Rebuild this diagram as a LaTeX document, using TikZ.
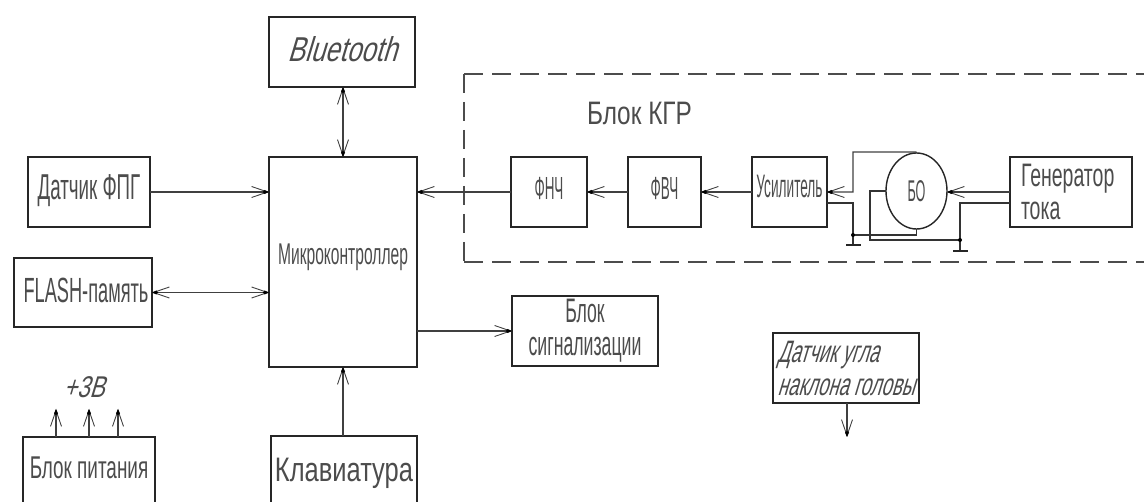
\documentclass[tikz,border=0pt]{standalone}
\usepackage{fontspec}
\setmainfont{Liberation Sans}
\newfontfamily\gostn[FakeStretch=0.42]{Liberation Sans}
\newfontfamily\gostm[FakeStretch=0.52]{Liberation Sans}
\newfontfamily\gostw[FakeStretch=0.60]{Liberation Sans}
\newfontfamily\gostx[FakeStretch=0.75]{Liberation Sans}
\newfontfamily\gosti[FakeStretch=0.60,FakeSlant=0.3]{Liberation Sans}
\newfontfamily\gostj[FakeStretch=0.75,FakeSlant=0.3]{Liberation Sans}
\newcommand{\fs}[1]{\fontsize{#1}{33}\selectfont}
\usepackage{xcolor}
\usetikzlibrary{arrows.meta, positioning, shapes.geometric}
\tikzset{barbtip/.tip={Straight Barb[length=16pt,width=11pt,line width=0.9pt,sep=-6pt]Kite[length=6pt,width=4pt,sep=0pt,black]}}

\begin{document}
\begin{tikzpicture}[
  x=1pt, y=-1pt,
  % Boxes with a heavy outline
  block/.style={rectangle, draw=black!85, line width=2pt, outer sep=0pt, inner sep=0pt,
                text=black!70, align=center},
  % Baseline of the text below the middle of its box
  baseup/.style={text height=#1, text depth=0pt},
  % Text that stands on its own
  caption/.style={text=black!70, inner sep=0pt, align=center},
  arrow/.style={-barbtip, draw=black!75, line width=1.2pt},
  both/.style={barbtip-barbtip, draw=black!75, line width=1.2pt},
  wire/.style={draw=black!80, line width=1.2pt},
  frame/.style={draw=black!70, line width=1.2pt, dash pattern=on 19pt off 9pt},
  ground/.style={draw=black!85, line width=2pt},
  junction/.style={circle, fill=black, inner sep=0pt, minimum size=4pt}
]
\useasboundingbox (0,0) rectangle (1144,502);
\clip (0,0) rectangle (1144,502);

%% ── Left column ──────────────────────────────────
\node[block, minimum width=122pt, minimum height=70pt, baseup=16pt, font=\gostm\fs{36}]
    (fpg) at (89, 192) {Датчик ФПГ};
\node[block, minimum width=138pt, minimum height=69pt, baseup=21pt, font=\gostm\fs{35}]
    (flash) at (83, 292.5) {\hspace*{6pt}FLASH-память};

%% ── Center column ────────────────────────────────
\node[block, minimum width=146pt, minimum height=70pt, baseup=20pt, font=\gostj\fs{34.5}]
    (bt) at (342, 52) {Bluetooth};
\node[block, minimum width=148pt, minimum height=210pt, baseup=6pt, font=\gostm\fs{30}]
    (mcu) at (343, 262) {Микроконтроллер};
\node[block, minimum width=146pt, minimum height=84pt, baseup=8pt, font=\gostx\fs{34}]
    (keys) at (344, 478) {Клавиатура};

%% ── Power supply, cut by the lower edge ──────────
\node[block, minimum width=132pt, minimum height=84pt, baseup=0pt, font=\gostw\fs{31.5}]
    (pwr) at (89, 479) {Блок питания};
\node[caption, font=\gostj\fs{30}] (volt) at (84, 387) {+3В};
\coordinate (va) at (56, 409);
\coordinate (vb) at (89, 409);
\coordinate (vc) at (118, 409);

%% ── Signal chain inside the dashed frame ─────────
\node[block, minimum width=76pt, minimum height=70pt, baseup=16pt, font=\gostn\fs{32}]
    (lpf) at (549, 192) {ФНЧ};
\node[block, minimum width=73pt, minimum height=70pt, baseup=16pt, font=\gostn\fs{32}]
    (hpf) at (664.5, 192) {ФВЧ};
\node[block, minimum width=75pt, minimum height=70pt, baseup=12pt, font=\gostn\fs{32.5}]
    (amp) at (789.5, 192) {Усилитель};
\node[ellipse, draw=black!85, line width=1.4pt, outer sep=0pt, inner sep=0pt,
      minimum width=61pt, minimum height=76pt, text=black!70, baseup=22pt,
      font=\gostn\fs{30}] (bo) at (916.5, 191) {БО};
\node[block, minimum width=122pt, minimum height=70pt, text width=100pt, align=left, font=\gostw\fs{32.5}]
    (gen) at (1071, 192) {Генератор\\тока};
\node[caption, font=\gostx\fs{32.5}] (kgr) at (639.5, 113) {Блок КГР};

%% ── Lower right blocks ───────────────────────────
\node[block, minimum width=146pt, minimum height=70pt, font=\gostm\fs{34}]
    (alarm) at (585, 331) {Блок\\сигнализации};
\node[block, minimum width=146pt, minimum height=70pt, align=left, font=\gosti\fs{31}]
    (tilt) at (846, 368) {Датчик угла\\наклона головы};
\coordinate (tiltout) at (847, 437);

%% ── Dashed frame ─────────────────────────────────
\coordinate (corner) at (464, 74);
\coordinate (footer) at (464, 262);
\draw[frame] (corner) -- (1144, 74);
\draw[frame] (corner) -- (footer);
\draw[frame] (footer) -- (1144, 262);

%% ── Main connectors ──────────────────────────────
\draw[both]  (bt.south -| 343, 0) -- (mcu.north);
\draw[arrow] (fpg.east) -- (mcu.west |- fpg.east);
\draw[both]  (flash.east) -- (mcu.west |- flash.east);
\draw[arrow] (keys.north -| mcu.south) -- (mcu.south);
\draw[arrow] (mcu.east |- alarm.west) -- (alarm.west);
\draw[arrow] (lpf.west) -- (mcu.east |- lpf.west);
\draw[arrow] (hpf.west) -- (lpf.east);
\draw[arrow] (amp.west) -- (hpf.east);
\draw[arrow] (tilt.south -| tiltout) -- (tiltout);
\draw[arrow] (pwr.north -| va) -- (va);
\draw[arrow] (pwr.north -| vb) -- (vb);
\draw[arrow] (pwr.north -| vc) -- (vc);

%% ── Wiring round the sensor ──────────────────────
\coordinate (gnda) at (853, 235);
\coordinate (gndb) at (960, 240);
\coordinate (ampin) at (amp.east |- 0, 203);
\coordinate (genin) at (gen.west |- 0, 203);
\draw[arrow] (bo.north) -- (916, 152) -| (853, 192) -- (amp.east |- 0, 192);
\draw[wire] (ampin) -| (gnda) -- (853, 245);
\draw[wire] (bo.south) |- (gnda);
\draw[wire] (bo.west) -- (870, 191) |- (gndb);
\draw[wire] (genin) -| (gndb) -- (960, 251);
\draw[arrow] (gen.west |- 0, 192) -- (bo.east |- 0, 192);
\node[junction] (dota) at (gnda) {};
\node[junction] (dotb) at (gndb) {};
\draw[ground] (846, 245) -- (861, 245);
\draw[ground] (953, 251) -- (968, 251);

\end{tikzpicture}
\end{document}
